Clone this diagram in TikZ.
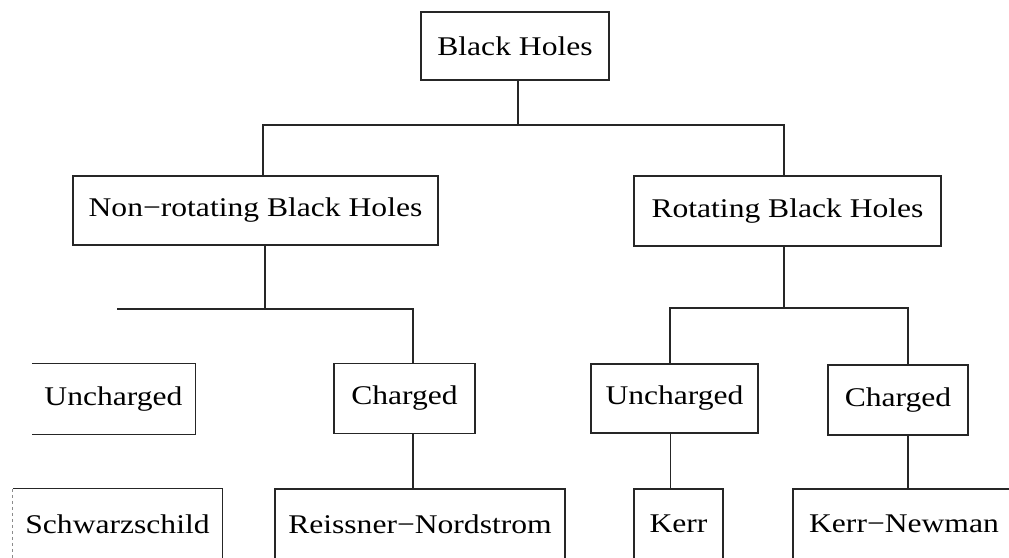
\documentclass[tikz,border=0pt]{standalone}
\usepackage{fontspec}
\setmainfont[FakeStretch=1.17]{Liberation Serif}
\begin{document}
\begin{tikzpicture}[x=1pt,y=-1pt,
  box/.style={draw=black!85, line width=1.1pt, inner sep=0pt, font=\fontsize{27}{30}\selectfont},
  openbox/.style={draw=none, inner sep=0pt, font=\fontsize{27}{30}\selectfont},
  link/.style={draw=black!85, line width=1.1pt}]
\useasboundingbox (0,0) rectangle (1009,557);
% level 0
\node[box, minimum width=188, minimum height=68] (bh) at (515,46) {Black Holes};
% level 1
\node[box, minimum width=365, minimum height=69] (nonrot) at (255.5,210.5) {Non−rotating Black Holes};
\node[box, minimum width=307, minimum height=70] (rot) at (787.5,211) {Rotating Black Holes};
% level 2
\node[openbox, minimum width=163, minimum height=70] (unL) at (113.5,399) {Uncharged};
\draw[link] (unL.north west) -- (unL.north east) -- (unL.south east) -- (unL.south west);
\node[box, minimum width=141, minimum height=70] (chL) at (404.5,398.5) {Charged};
\node[box, minimum width=167, minimum height=69] (unR) at (674.5,398.5) {Uncharged};
\node[box, minimum width=140, minimum height=70] (chR) at (898,400) {Charged};
% level 3
\node[openbox, minimum width=209, minimum height=70] (schw) at (117.5,524) {Schwarzschild};
\draw[link] (schw.south east) -- (schw.north east) -- (schw.north west);
\draw[link, black!45, line width=0.8pt, dashed] (schw.north west) -- (schw.south west);
\node[box, minimum width=290, minimum height=70] (reis) at (420,524) {Reissner−Nordstrom};
\node[box, minimum width=89, minimum height=70] (kerr) at (678.5,524) {Kerr};
\node[box, minimum width=222, minimum height=70] (kn) at (904,524) {Kerr−Newman};
% bus coordinates
\coordinate (j1) at (518,125);
\coordinate (b1L) at (263,125);
\coordinate (b1R) at (784,125);
\coordinate (b2L) at (117,309);
\coordinate (b2M) at (265,309);
\coordinate (b2R) at (413,309);
\coordinate (b3L) at (670,308);
\coordinate (b3M) at (784,308);
\coordinate (b3R) at (908,308);
% connectors
\draw[link] (bh.south -| j1) -- (j1);
\draw[link] (nonrot.north -| b1L) -- (b1L) -- (b1R) -- (rot.north -| b1R);
\draw[link] (nonrot.south -| b2M) -- (b2M);
\draw[link] (b2L) -- (b2R) -- (chL.north -| b2R);
\draw[link] (rot.south -| b3M) -- (b3M);
\draw[link] (unR.north -| b3L) -- (b3L) -- (b3R) -- (chR.north -| b3R);
\draw[link] (chL.south -| b2R) -- (reis.north -| b2R);
\draw[link, line width=0.8pt] (unR.south -| b3L) -- (kerr.north -| b3L);
\draw[link] (chR.south -| b3R) -- (kn.north -| b3R);
\end{tikzpicture}
\end{document}
